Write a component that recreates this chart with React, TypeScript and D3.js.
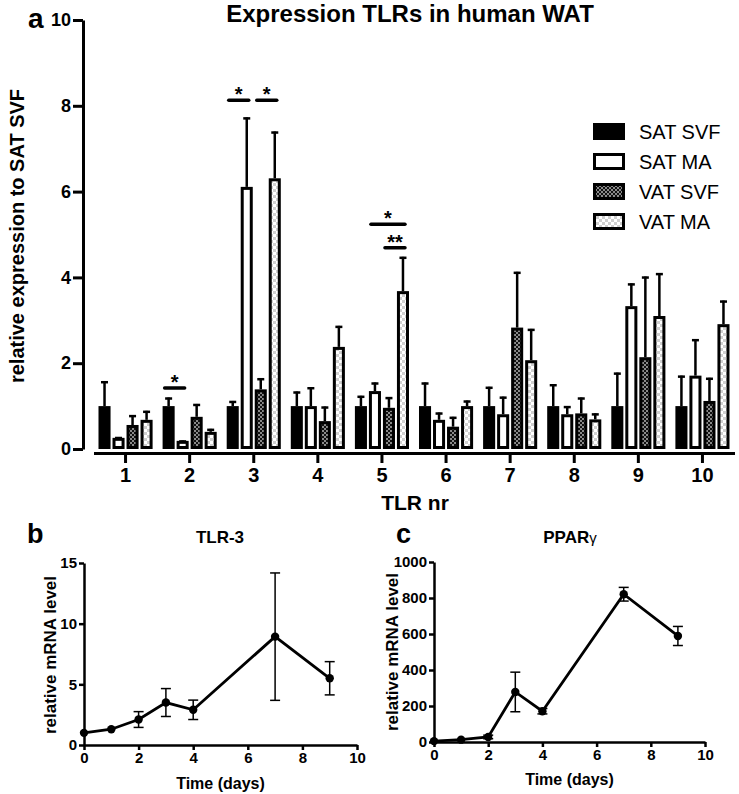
import React, { useEffect, useRef } from 'react';
import * as d3 from 'd3';

// panel a: TLR expression
const tlrGroups = ["1", "2", "3", "4", "5", "6", "7", "8", "9", "10"];
const seriesNames = ["SAT SVF", "SAT MA", "VAT SVF", "VAT MA"];
const satSvf = [1, 1, 1, 1, 1, 1, 1, 1, 1, 1];
const satSvfUpper = [1.58, 1.2, 1.12, 1.34, 1.24, 1.55, 1.45, 1.51, 1.78, 1.71];
const satMa = [0.26, 0.19, 6.11, 1.0, 1.35, 0.68, 0.81, 0.81, 3.33, 1.71];
const satMaUpper = [0.28, 0.2, 7.73, 1.44, 1.55, 0.85, 1.22, 1.0, 3.86, 2.56];
const vatSvf = [0.56, 0.75, 1.39, 0.65, 0.96, 0.52, 2.83, 0.83, 2.14, 1.12];
const vatSvfUpper = [0.79, 1.05, 1.65, 0.99, 1.21, 0.75, 4.13, 1.2, 4.02, 1.66];
const vatMa = [0.68, 0.4, 6.31, 2.38, 3.68, 1.0, 2.07, 0.69, 3.1, 2.91];
const vatMaUpper = [0.89, 0.47, 7.4, 2.87, 4.48, 1.13, 2.8, 0.83, 4.1, 3.46];
const yTicksA = [0, 2, 4, 6, 8, 10];

// significance brackets
const sigGroup = ["2", "3", "3", "5", "5"];
const sigFrom = [0, 0, 2, 1, 2];
const sigTo = [1, 1, 3, 3, 3];
const sigLevel = [1.42, 8.13, 8.13, 5.24, 4.69];
const sigLabel = ["*", "*", "*", "*", "**"];

// panels b and c: time course
const days = [0, 1, 2, 3, 4, 7, 9];
const tlr3 = [1.0, 1.3, 2.1, 3.5, 2.9, 8.93, 5.5];
const tlr3Sem = [0, 0, 0.65, 1.15, 0.8, 5.25, 1.37];
const pparg = [5, 13, 28, 278, 171, 821, 589];
const ppargSem = [0, 0, 10, 110, 15, 38, 53];
const dayTicks = [0, 2, 4, 6, 8, 10];
const tlr3Ticks = [0, 5, 10, 15];
const ppargTicks = [0, 200, 400, 600, 800, 1000];

const FONT = "'Liberation Sans', Arial, Helvetica, sans-serif";

const App = () => {
  const ref = useRef(null);

  useEffect(() => {
    const svg = d3.select(ref.current);
    svg.selectAll("*").remove();
    svg.attr("font-family", FONT);

    // patterns
    const defs = svg.append("defs");
    const p1 = defs.append("pattern").attr("id", "vatSvf").attr("patternUnits", "userSpaceOnUse")
      .attr("width", 4).attr("height", 4);
    p1.append("rect").attr("width", 4).attr("height", 4).attr("fill", "#111");
    p1.append("rect").attr("width", 2).attr("height", 2).attr("fill", "#8a8a8a");
    p1.append("rect").attr("x", 2).attr("y", 2).attr("width", 2).attr("height", 2).attr("fill", "#8a8a8a");
    const p2 = defs.append("pattern").attr("id", "vatMa").attr("patternUnits", "userSpaceOnUse")
      .attr("width", 6).attr("height", 6);
    p2.append("rect").attr("width", 6).attr("height", 6).attr("fill", "#fff");
    p2.append("rect").attr("width", 3).attr("height", 3).attr("fill", "#cfcfcf");
    p2.append("rect").attr("x", 3).attr("y", 3).attr("width", 3).attr("height", 3).attr("fill", "#cfcfcf");

    const fills = ["#000", "#fff", "url(#vatSvf)", "url(#vatMa)"];
    const values = [satSvf, satMa, vatSvf, vatMa];
    const uppers = [satSvfUpper, satMaUpper, vatSvfUpper, vatMaUpper];

    // ---------- panel a ----------
    const yA = d3.scaleLinear().domain([0, 10]).range([449, 20]);
    const x0 = d3.scaleBand().domain(tlrGroups).range([93.5, 734.5]).paddingInner(0.156).paddingOuter(0.078);
    const x1 = d3.scaleBand().domain(seriesNames).range([0, x0.bandwidth()]).paddingInner(0.14);

    const gA = svg.append("g");

    seriesNames.forEach((s, si) => {
      const bars = gA.append("g");
      tlrGroups.forEach((g, gi) => {
        const bx = x0(g) + x1(s);
        const bw = x1.bandwidth();
        const v = values[si][gi];
        const up = uppers[si][gi];
        // error bar
        if (up > v) {
          const cx = bx + bw / 2;
          bars.append("line").attr("x1", cx).attr("x2", cx).attr("y1", yA(v)).attr("y2", yA(up))
            .attr("stroke", "#000").attr("stroke-width", 2.5);
          bars.append("line").attr("x1", cx - 3.5).attr("x2", cx + 3.5).attr("y1", yA(up) + 1).attr("y2", yA(up) + 1)
            .attr("stroke", "#000").attr("stroke-width", 2.5);
        }
        bars.append("rect")
          .attr("x", bx + 1.5).attr("y", yA(v) + 1.5)
          .attr("width", bw - 3).attr("height", Math.max(0, yA(0) - yA(v) - 3))
          .attr("fill", fills[si]).attr("stroke", "#000").attr("stroke-width", 3);
      });
    });

    // significance
    sigGroup.forEach((g, i) => {
      const xa = x0(g) + x1(seriesNames[sigFrom[i]]) + x1.bandwidth() / 2 - 4;
      const xb = x0(g) + x1(seriesNames[sigTo[i]]) + x1.bandwidth() / 2 + 2;
      const yy = yA(sigLevel[i]);
      gA.append("line").attr("x1", xa).attr("x2", xb).attr("y1", yy).attr("y2", yy)
        .attr("stroke", "#000").attr("stroke-width", 3.5).attr("stroke-linecap", "round");
      gA.append("text").attr("x", (xa + xb) / 2).attr("y", yy + 1).attr("text-anchor", "middle")
        .attr("font-size", 20).attr("font-weight", "bold").text(sigLabel[i]);
    });

    // y axis
    const yAxisA = gA.append("g").attr("transform", "translate(83,0)")
      .call(d3.axisLeft(yA).tickValues(yTicksA).tickSize(10).tickSizeOuter(0).tickPadding(2));
    yAxisA.select(".domain").attr("stroke-width", 3);
    yAxisA.selectAll(".tick line").attr("stroke-width", 3);
    yAxisA.selectAll(".tick text").attr("font-size", 18).attr("font-weight", "bold").attr("font-family", FONT);

    // x axis
    const xAxisA = gA.append("g").attr("transform", "translate(0,453)")
      .call(d3.axisBottom(x0).tickSize(10).tickSizeOuter(0).tickPadding(5));
    xAxisA.select(".domain").attr("stroke-width", 3);
    xAxisA.selectAll(".tick line").attr("stroke-width", 3);
    xAxisA.selectAll(".tick text").attr("font-size", 20).attr("font-weight", "bold").attr("font-family", FONT);

    gA.append("text").attr("x", 410).attr("y", 22).attr("text-anchor", "middle")
      .attr("font-size", 24).attr("font-weight", "bold").text("Expression TLRs in human WAT");
    gA.append("text").attr("x", 28).attr("y", 28)
      .attr("font-size", 28).attr("font-weight", "bold").text("a");
    gA.append("text").attr("transform", "translate(24,236) rotate(-90)").attr("text-anchor", "middle")
      .attr("font-size", 20).attr("font-weight", "bold").text("relative expression to SAT SVF");
    gA.append("text").attr("x", 415).attr("y", 510).attr("text-anchor", "middle")
      .attr("font-size", 21).attr("font-weight", "bold").text("TLR nr");

    // legend
    const leg = gA.append("g").attr("transform", "translate(593,123)");
    seriesNames.forEach((s, i) => {
      leg.append("rect").attr("x", 1.5).attr("y", i * 30 + 1.5).attr("width", 29).attr("height", 14)
        .attr("fill", fills[i]).attr("stroke", "#000").attr("stroke-width", 3);
      leg.append("text").attr("x", 46).attr("y", i * 30 + 15.5)
        .attr("font-size", 20).text(s);
    });

    // ---------- panels b, c ----------
    const drawLine = (opts) => {
      const { xr, yr, yDomain, yTicks, vals, sem, letter, letterX, title, titleX, ylabX, ylabY, xlabY } = opts;
      const x = d3.scaleLinear().domain([0, 10]).range(xr);
      const y = d3.scaleLinear().domain(yDomain).range(yr);
      const g = svg.append("g");

      const ya = g.append("g").attr("transform", `translate(${xr[0]},0)`)
        .call(d3.axisLeft(y).tickValues(yTicks).tickFormat(d3.format("d")).tickSize(5).tickSizeOuter(0).tickPadding(2));
      const xa = g.append("g").attr("transform", `translate(0,${yr[0]})`)
        .call(d3.axisBottom(x).tickValues(dayTicks).tickFormat(d3.format("d")).tickSize(5).tickSizeOuter(0).tickPadding(2));
      [ya, xa].forEach((a) => {
        a.select(".domain").attr("stroke-width", 2.5);
        a.selectAll(".tick line").attr("stroke-width", 2.5);
        a.selectAll(".tick text").attr("font-size", 15).attr("font-weight", "bold").attr("font-family", FONT);
      });

      // error bars
      days.forEach((d, i) => {
        if (sem[i] <= 0) return;
        const cx = x(d);
        g.append("line").attr("x1", cx).attr("x2", cx).attr("y1", y(vals[i] - sem[i])).attr("y2", y(vals[i] + sem[i]))
          .attr("stroke", "#000").attr("stroke-width", 1.5);
        [vals[i] - sem[i], vals[i] + sem[i]].forEach((e) => {
          g.append("line").attr("x1", cx - 5).attr("x2", cx + 5).attr("y1", y(e)).attr("y2", y(e))
            .attr("stroke", "#000").attr("stroke-width", 1.5);
        });
      });

      const line = d3.line().x((d, i) => x(days[i])).y((d) => y(d));
      g.append("path").datum(vals).attr("d", line).attr("fill", "none")
        .attr("stroke", "#000").attr("stroke-width", 2.8);
      g.selectAll("circle.pt").data(vals).enter().append("circle")
        .attr("cx", (d, i) => x(days[i])).attr("cy", (d) => y(d)).attr("r", 4.2).attr("fill", "#000");

      g.append("text").attr("x", letterX).attr("y", 543).attr("font-size", 27).attr("font-weight", "bold").text(letter);
      const t = g.append("text").attr("x", titleX).attr("y", 543).attr("text-anchor", "middle")
        .attr("font-size", 17).attr("font-weight", "bold");
      t.append("tspan").text(title[0]);
      if (title[1]) t.append("tspan").attr("font-weight", "normal").attr("font-size", 15).text(title[1]);
      g.append("text").attr("transform", `translate(${ylabX},${ylabY}) rotate(-90)`).attr("text-anchor", "middle")
        .attr("font-size", 17).attr("font-weight", "bold").text("relative mRNA level");
      g.append("text").attr("x", (xr[0] + xr[1]) / 2).attr("y", xlabY).attr("text-anchor", "middle")
        .attr("font-size", 16).attr("font-weight", "bold").text("Time (days)");
    };

    drawLine({
      xr: [84, 357], yr: [745, 563], yDomain: [0, 15], yTicks: tlr3Ticks, vals: tlr3, sem: tlr3Sem,
      letter: "b", letterX: 27, title: ["TLR-3"], titleX: 220, ylabX: 56, ylabY: 655, xlabY: 789,
    });
    drawLine({
      xr: [434, 705], yr: [742, 562], yDomain: [0, 1000], yTicks: ppargTicks, vals: pparg, sem: ppargSem,
      letter: "c", letterX: 396, title: ["PPAR", "γ"], titleX: 570, ylabX: 398, ylabY: 652, xlabY: 785,
    });
  }, []);

  return (
    <svg ref={ref} width={739} height={794} style={{ position: "absolute", left: 0, top: 0, background: "#fff" }}></svg>
  );
};

export default App;
